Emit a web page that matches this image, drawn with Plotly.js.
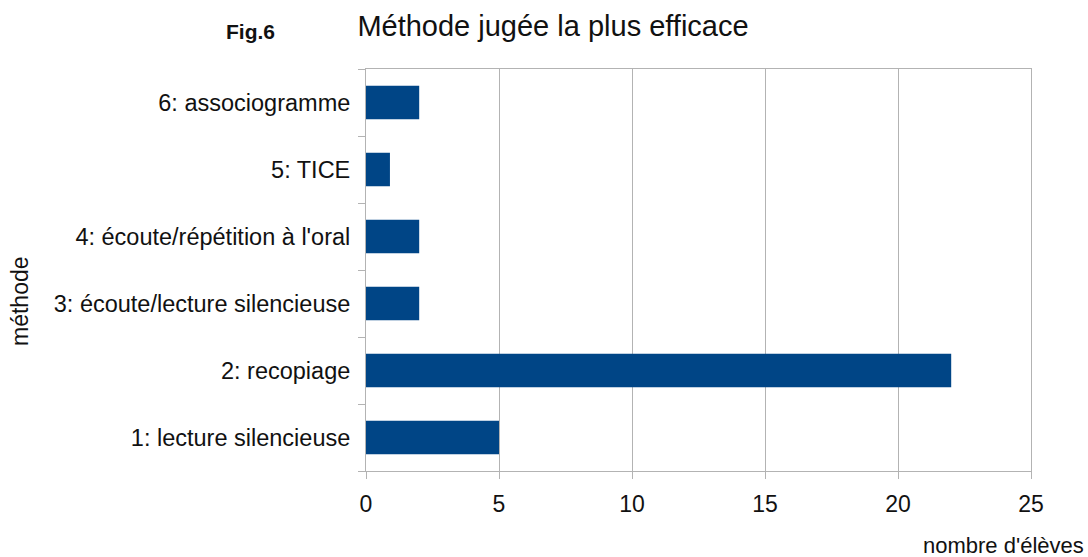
<!DOCTYPE html>
<html>
<head>
<meta charset="utf-8">
<script src="https://cdn.plot.ly/plotly-3.0.1.min.js"></script>
<style>html,body{margin:0;padding:0;background:#fff;}#chart{width:1088px;height:557px;}</style>
</head>
<body>
<div id="chart"></div>
<script>
const methodes = ["1: lecture silencieuse", "2: recopiage", "3: écoute/lecture silencieuse", "4: écoute/répétition à l'oral", "5: TICE", "6: associogramme"];
const eleves = [5, 22, 2, 2, 0.9, 2];
const xTicks = [0, 5, 10, 15, 20, 25];

const font = "Liberation Sans, Arial, sans-serif";
const grid = "#b3b3b3";

Plotly.newPlot("chart", [{
  type: "bar",
  orientation: "h",
  x: eleves,
  y: methodes,
  marker: {color: "#004586"},
  width: 0.5,
  hoverinfo: "x+y"
}], {
  width: 1088, height: 557,
  margin: {l: 366, r: 57, t: 69, b: 86},
  paper_bgcolor: "#fff", plot_bgcolor: "#fff",
  showlegend: false,
  font: {family: font, color: "#111"},
  title: {text: "Méthode jugée la plus efficace", font: {size: 29, family: font, color: "#111"}, x: 553/1088, xanchor: "center", y: 1 - 26/557, yanchor: "middle"},
  xaxis: {
    range: [0, 25], tickvals: xTicks, ticktext: xTicks.map(String),
    showgrid: true, gridcolor: grid, gridwidth: 1,
    showline: true, linecolor: grid, linewidth: 1, mirror: true,
    ticks: "outside", ticklen: 7, tickcolor: grid,
    tickfont: {size: 23, family: font, color: "#111"},
    ticklabelstandoff: 5, zeroline: false, fixedrange: true
  },
  yaxis: {
    type: "category", categoryorder: "array", categoryarray: methodes,
    showgrid: false,
    showline: true, linecolor: grid, linewidth: 1, mirror: true,
    ticks: "outside", ticklen: 7, tickcolor: grid, tickson: "boundaries",
    tickfont: {size: 23.5, family: font, color: "#111"},
    ticklabelstandoff: 10, fixedrange: true
  },
  annotations: [
    {text: "<b>Fig.6</b>", xref: "paper", yref: "paper", x: (250 - 366)/665, y: 1 + (69 - 31)/402, xanchor: "center", yanchor: "middle", showarrow: false, font: {size: 21, family: font, color: "#111"}},
    {text: "nombre d'élèves", xref: "paper", yref: "paper", x: (1086 - 366)/665, y: -(545 - 471)/402, xanchor: "right", yanchor: "middle", showarrow: false, font: {size: 22, family: font, color: "#111"}},
    {text: "méthode", xref: "paper", yref: "paper", x: (20 - 366)/665, y: (471 - 301)/402, xanchor: "center", yanchor: "middle", textangle: -90, showarrow: false, font: {size: 23, family: font, color: "#111"}}
  ]
}, {displayModeBar: false, staticPlot: true});
</script>
</body>
</html>
